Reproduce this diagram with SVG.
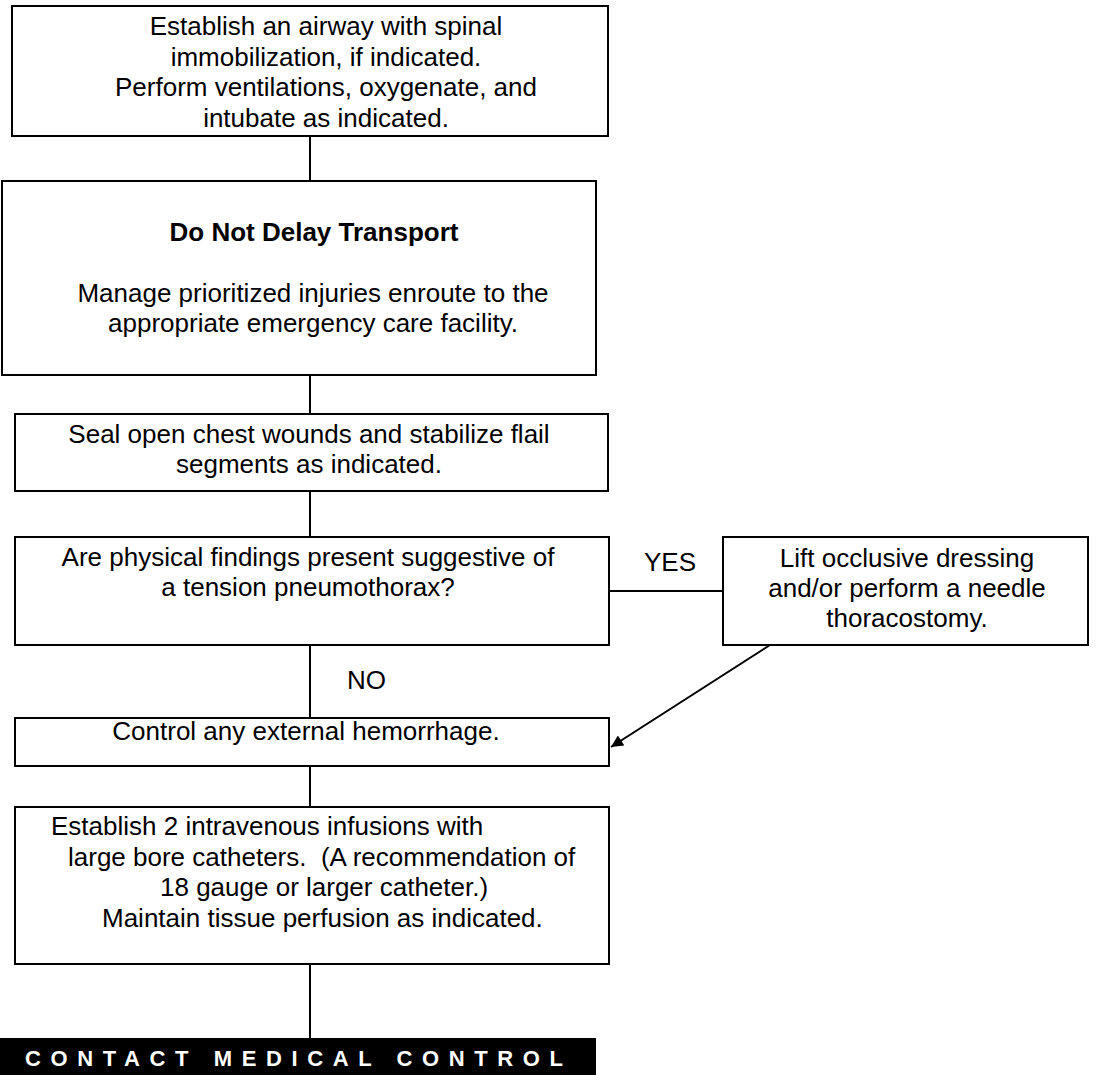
<svg xmlns="http://www.w3.org/2000/svg" width="1110" height="1075" viewBox="0 0 1110 1075">
<defs>
<style>
.box{fill:#fff;stroke:#000;stroke-width:2}
.t{font-family:"Liberation Sans",Arial,sans-serif;font-size:26px;fill:#000}
.c{text-anchor:middle}
.b{font-weight:bold}
.ln{stroke:#000;stroke-width:2;fill:none}
.bar{fill:#000}
.bt{font-family:"Liberation Sans",Arial,sans-serif;font-size:22px;font-weight:bold;fill:#fff;letter-spacing:9.6px}
</style>
<marker id="ah" viewBox="0 0 10 10" refX="10" refY="5" markerWidth="16" markerHeight="12" markerUnits="userSpaceOnUse" orient="auto">
<path d="M0,0 L10,5 L0,10 Z" fill="#000"/>
</marker>
</defs>
<rect width="1110" height="1075" fill="#fff"/>
<g id="connectors">
<line class="ln" x1="310" y1="136" x2="310" y2="181"/>
<line class="ln" x1="310" y1="375" x2="310" y2="414"/>
<line class="ln" x1="310" y1="491" x2="310" y2="537"/>
<line class="ln" x1="310" y1="645" x2="310" y2="718"/>
<line class="ln" x1="310" y1="766" x2="310" y2="807"/>
<line class="ln" x1="310" y1="964" x2="310" y2="1038"/>
<line class="ln" x1="609" y1="591" x2="723" y2="591"/>
<line class="ln" x1="770" y1="645" x2="611" y2="747" marker-end="url(#ah)"/>
<text class="t" x="644" y="571">YES</text>
<text class="t" x="347" y="689">NO</text>
</g>
<g id="n1">
<rect class="box" x="12" y="6" width="596" height="130"/>
<text class="t c" x="326" y="35">Establish an airway with spinal</text>
<text class="t c" x="326" y="65.5">immobilization, if indicated.</text>
<text class="t c" x="326" y="96">Perform ventilations, oxygenate, and</text>
<text class="t c" x="326" y="126.5">intubate as indicated.</text>
</g>
<g id="n2">
<rect class="box" x="2" y="181" width="594" height="194"/>
<text class="t c b" x="314" y="241">Do Not Delay Transport</text>
<text class="t c" x="313" y="302">Manage prioritized injuries enroute to the</text>
<text class="t c" x="313" y="332">appropriate emergency care facility.</text>
</g>
<g id="n3">
<rect class="box" x="15" y="414" width="593" height="77"/>
<text class="t c" x="309" y="443">Seal open chest wounds and stabilize flail</text>
<text class="t c" x="309" y="473">segments as indicated.</text>
</g>
<g id="n4">
<rect class="box" x="15" y="537" width="594" height="108"/>
<text class="t c" x="308" y="566">Are physical findings present suggestive of</text>
<text class="t c" x="308" y="596">a tension pneumothorax?</text>
</g>
<g id="n5">
<rect class="box" x="723" y="537" width="365" height="108"/>
<text class="t c" x="907" y="567">Lift occlusive dressing</text>
<text class="t c" x="907" y="597">and/or perform a needle</text>
<text class="t c" x="907" y="627">thoracostomy.</text>
</g>
<g id="n6">
<rect class="box" x="15" y="718" width="594" height="48"/>
<text class="t c" x="306" y="740">Control any external hemorrhage.</text>
</g>
<g id="n7">
<rect class="box" x="15" y="807" width="594" height="157"/>
<text class="t" x="51" y="835">Establish 2 intravenous infusions with</text>
<text class="t" x="68" y="865.5" xml:space="preserve">large bore catheters.  (A recommendation of</text>
<text class="t" x="160" y="896">18 gauge or larger catheter.)</text>
<text class="t" x="102" y="926.5">Maintain tissue perfusion as indicated.</text>
</g>
<g id="n8">
<rect class="bar" x="0" y="1038" width="596" height="37"/>
<text class="bt" x="25" y="1066">CONTACT MEDICAL CONTROL</text>
</g>
</svg>
